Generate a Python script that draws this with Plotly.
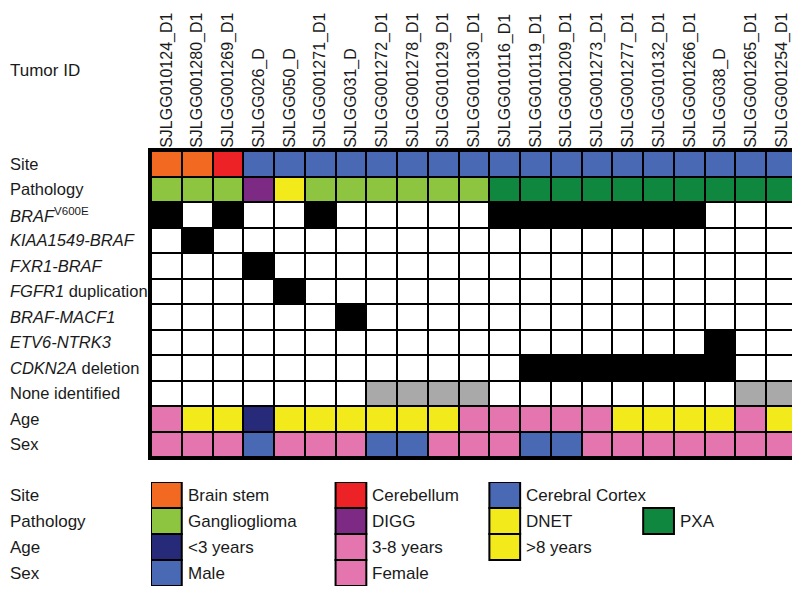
import plotly.graph_objects as go

# ---------------- data ----------------
tumor_ids = ["SJLGG010124_D1", "SJLGG001280_D1", "SJLGG001269_D1", "SJLGG026_D",
             "SJLGG050_D", "SJLGG001271_D1", "SJLGG031_D", "SJLGG001272_D1",
             "SJLGG001278_D1", "SJLGG010129_D1", "SJLGG010130_D1", "SJLGG010116_D1",
             "SJLGG010119_D1", "SJLGG001209_D1", "SJLGG001273_D1", "SJLGG001277_D1",
             "SJLGG010132_D1", "SJLGG001266_D1", "SJLGG038_D", "SJLGG001265_D1",
             "SJLGG001254_D1"]

site = ["Brain stem", "Brain stem", "Cerebellum", "Cerebral Cortex", "Cerebral Cortex",
        "Cerebral Cortex", "Cerebral Cortex", "Cerebral Cortex", "Cerebral Cortex",
        "Cerebral Cortex", "Cerebral Cortex", "Cerebral Cortex", "Cerebral Cortex",
        "Cerebral Cortex", "Cerebral Cortex", "Cerebral Cortex", "Cerebral Cortex",
        "Cerebral Cortex", "Cerebral Cortex", "Cerebral Cortex", "Cerebral Cortex"]

pathology = ["Ganglioglioma", "Ganglioglioma", "Ganglioglioma", "DIGG", "DNET",
             "Ganglioglioma", "Ganglioglioma", "Ganglioglioma", "Ganglioglioma",
             "Ganglioglioma", "Ganglioglioma", "PXA", "PXA", "PXA", "PXA", "PXA",
             "PXA", "PXA", "PXA", "PXA", "PXA"]

braf_v600e     = [1, 0, 1, 0, 0, 1, 0, 0, 0, 0, 0, 1, 1, 1, 1, 1, 1, 1, 0, 0, 0]
kiaa1549_braf  = [0, 1, 0, 0, 0, 0, 0, 0, 0, 0, 0, 0, 0, 0, 0, 0, 0, 0, 0, 0, 0]
fxr1_braf      = [0, 0, 0, 1, 0, 0, 0, 0, 0, 0, 0, 0, 0, 0, 0, 0, 0, 0, 0, 0, 0]
fgfr1_dup      = [0, 0, 0, 0, 1, 0, 0, 0, 0, 0, 0, 0, 0, 0, 0, 0, 0, 0, 0, 0, 0]
braf_macf1     = [0, 0, 0, 0, 0, 0, 1, 0, 0, 0, 0, 0, 0, 0, 0, 0, 0, 0, 0, 0, 0]
etv6_ntrk3     = [0, 0, 0, 0, 0, 0, 0, 0, 0, 0, 0, 0, 0, 0, 0, 0, 0, 0, 1, 0, 0]
cdkn2a_del     = [0, 0, 0, 0, 0, 0, 0, 0, 0, 0, 0, 0, 1, 1, 1, 1, 1, 1, 1, 0, 0]
none_found     = [0, 0, 0, 0, 0, 0, 0, 1, 1, 1, 1, 0, 0, 0, 0, 0, 0, 0, 0, 1, 1]

age = ["3-8 years", ">8 years", ">8 years", "<3 years", ">8 years", ">8 years",
       ">8 years", ">8 years", ">8 years", ">8 years", "3-8 years", "3-8 years",
       "3-8 years", "3-8 years", "3-8 years", ">8 years", ">8 years", ">8 years",
       ">8 years", "3-8 years", ">8 years"]

sex = ["Female", "Female", "Female", "Male", "Female", "Female", "Female", "Male",
       "Male", "Female", "Female", "Female", "Male", "Male", "Female", "Female",
       "Female", "Female", "Female", "Female", "Female"]

row_labels = ["Site", "Pathology", "<i>BRAF</i><sup>V600E</sup>", "<i>KIAA1549-BRAF</i>",
              "<i>FXR1-BRAF</i>", "<i>FGFR1</i> duplication", "<i>BRAF-MACF1</i>",
              "<i>ETV6-NTRK3</i>", "<i>CDKN2A</i> deletion", "None identified",
              "Age", "Sex"]

# legend: (row, column index, label)
legend_rows = ["Site", "Pathology", "Age", "Sex"]
legend_items = [
    ("Site", 0, "Brain stem"), ("Site", 6, "Cerebellum"), ("Site", 11, "Cerebral Cortex"),
    ("Pathology", 0, "Ganglioglioma"), ("Pathology", 6, "DIGG"), ("Pathology", 11, "DNET"),
    ("Pathology", 16, "PXA"),
    ("Age", 0, "<3 years"), ("Age", 6, "3-8 years"), ("Age", 11, ">8 years"),
    ("Sex", 0, "Male"), ("Sex", 6, "Female"),
]

# ---------------- colours ----------------
color_of = {
    "absent": "#FFFFFF",
    "present": "#000000",
    "none": "#A9A9A9",
    "Brain stem": "#F26A22",
    "Cerebellum": "#EC2227",
    "Cerebral Cortex": "#4A69B4",
    "Ganglioglioma": "#8DC540",
    "DIGG": "#7D2A85",
    "DNET": "#F3EA1C",
    "PXA": "#10873F",
    "<3 years": "#262A78",
    "3-8 years": "#E575AF",
    ">8 years": "#F3EA1C",
    "Male": "#4A69B4",
    "Female": "#E575AF",
}
keys = list(color_of.keys())
code = {k: i for i, k in enumerate(keys)}
n = len(keys)
colorscale = []
for i, k in enumerate(keys):
    colorscale.append([i / n, color_of[k]])
    colorscale.append([(i + 1) / n, color_of[k]])


def binrow(vals):
    return [code["present"] if v else code["absent"] for v in vals]


z = [
    [code[v] for v in site],
    [code[v] for v in pathology],
    binrow(braf_v600e),
    binrow(kiaa1549_braf),
    binrow(fxr1_braf),
    binrow(fgfr1_dup),
    binrow(braf_macf1),
    binrow(etv6_ntrk3),
    binrow(cdkn2a_del),
    [code["none"] if v else code["absent"] for v in none_found],
    [code[v] for v in age],
    [code[v] for v in sex],
]

ncol = len(tumor_ids)
nrow = len(row_labels)

fig = go.Figure()
fig.add_trace(go.Heatmap(
    z=z, x=list(range(ncol)), y=list(range(nrow)),
    colorscale=colorscale, zmin=-0.5, zmax=n - 0.5,
    xgap=2, ygap=2, showscale=False, hoverinfo="skip",
))
fig.add_trace(go.Scatter(x=[0], y=[0], xaxis="x", yaxis="y2", mode="markers",
                         marker=dict(opacity=0), showlegend=False, hoverinfo="skip"))

FONT = "Liberation Sans, Arial, sans-serif"
TXT = "#1a1a1a"

# page body has an 8px margin: figure is placed at (8, 8) in the window
W, H = 792, 582
ML, MR, MT, MB = 143, 3, 143, 4
W_PLOT = W - ML - MR
H_PLOT = H - MT - MB
LABEL_X = -ML / W_PLOT  # left edge of figure

# frame behind the grid (gap colour)
fig.add_shape(type="rect", xref="x domain", yref="y domain", x0=0, x1=1, y0=0, y1=1,
              fillcolor="black", line=dict(width=0), layer="below")

# row labels
for i, lab in enumerate(row_labels):
    fig.add_annotation(text=lab, xref="paper", yref="y", x=LABEL_X, y=i,
                       xanchor="left", yanchor="middle", showarrow=False,
                       font=dict(family=FONT, size=16.5, color=TXT))

# "Tumor ID"
fig.add_annotation(text="Tumor ID", xref="paper", yref="paper", x=LABEL_X,
                   y=(H_PLOT + MT - 62) / H_PLOT, xanchor="left", yanchor="middle",
                   showarrow=False, font=dict(family=FONT, size=17, color=TXT))

# legend
for r, lab in enumerate(legend_rows):
    fig.add_annotation(text=lab, xref="paper", yref="y2", x=LABEL_X, y=r,
                       xanchor="left", yanchor="middle", showarrow=False,
                       font=dict(family=FONT, size=17, color=TXT))
for row_name, col, lab in legend_items:
    r = legend_rows.index(row_name)
    fig.add_shape(type="rect", xref="x", yref="y2", x0=col - 0.5, x1=col + 0.5,
                  y0=r - 0.5, y1=r + 0.5, fillcolor=color_of[lab],
                  line=dict(color="black", width=2))
    fig.add_annotation(text=lab, xref="x", yref="y2", x=col + 0.5, y=r, xshift=4,
                       xanchor="left", yanchor="middle", showarrow=False,
                       font=dict(family=FONT, size=17, color=TXT))

main_bottom = (H_PLOT - 306) / H_PLOT
leg_top = 104 / H_PLOT

fig.update_layout(
    width=W, height=H,
    margin=dict(l=ML, r=MR, t=MT, b=MB),
    paper_bgcolor="white", plot_bgcolor="rgba(0,0,0,0)",
    font=dict(family=FONT, size=17, color=TXT),
    showlegend=False,
    xaxis=dict(side="top", anchor="y", range=[-0.5, ncol - 0.5],
               tickvals=list(range(ncol)), ticktext=tumor_ids, tickangle=-90,
               ticks="", ticklen=0, ticklabelstandoff=-3,
               showgrid=False, zeroline=False, showline=True,
               linecolor="black", linewidth=3, mirror=True, automargin=False,
               tickfont=dict(family=FONT, size=16, color=TXT)),
    yaxis=dict(domain=[main_bottom, 1], range=[nrow - 0.5, -0.5], showticklabels=False,
               ticks="", showgrid=False, zeroline=False, showline=True,
               linecolor="black", linewidth=3, mirror=True, automargin=False),
    yaxis2=dict(domain=[0, leg_top], range=[len(legend_rows) - 0.5, -0.5], anchor="x",
                visible=False),
)

fig.write_html("out.html")
